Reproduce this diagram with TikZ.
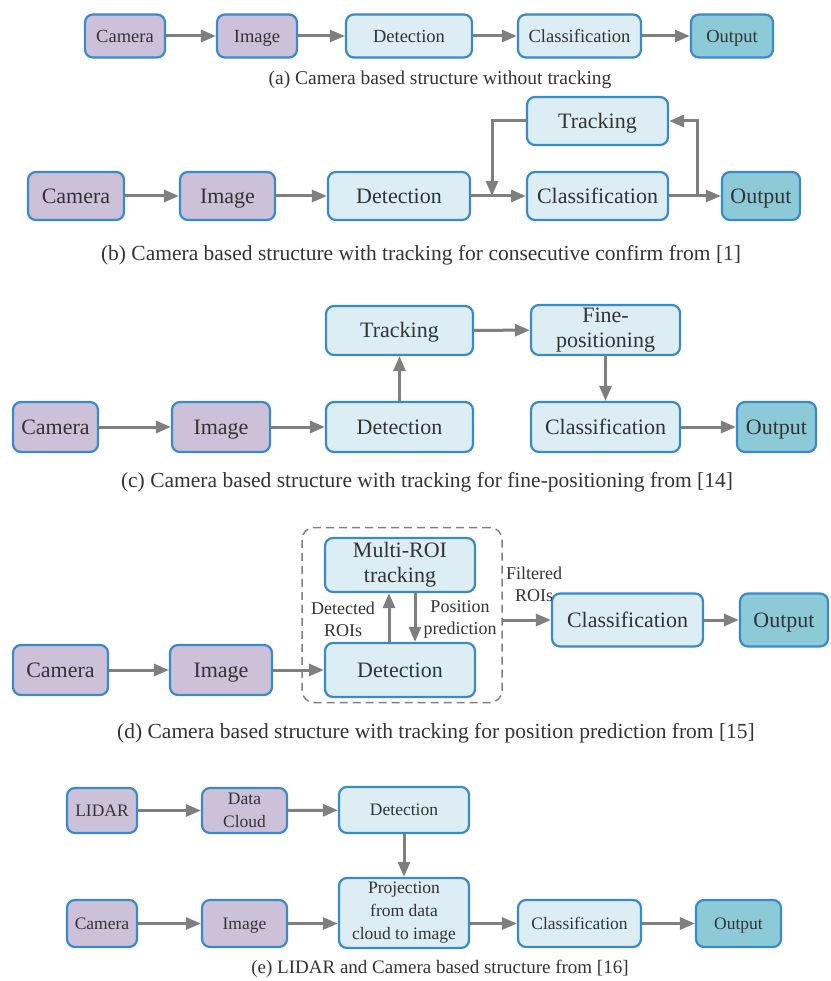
\documentclass[tikz,border=0pt]{standalone}
\usepackage{fontspec}
\setmainfont{Liberation Serif}
\usetikzlibrary{arrows.meta}
\definecolor{edgeblue}{HTML}{3A89C9}
\definecolor{sensfill}{HTML}{CDC1DA}
\definecolor{procfill}{HTML}{DCEDF4}
\definecolor{outfill}{HTML}{8DCAD8}
\definecolor{flowgray}{HTML}{7F7F7F}
\definecolor{inkgray}{HTML}{333333}
\tikzset{
    blk/.style={draw=edgeblue, line width=2.2pt, rounded corners=8pt, align=center,
        inner sep=0pt, text=inkgray},
    multi/.style={text height={}, text depth={}},
    sens/.style={blk, fill=sensfill},
    proc/.style={blk, fill=procfill},
    outp/.style={blk, fill=outfill},
    wh/.style 2 args={minimum width=#1pt, minimum height=#2pt},
    flow/.style={draw=flowgray, line width=3pt, -{Triangle[length=15pt,width=12pt]}},
    bigtxt/.style={font=\fontsize{22}{25}\selectfont, text height=14.5pt, text depth=0pt},
    midtxt/.style={font=\fontsize{18.5}{21}\selectfont, text height=12.2pt, text depth=0pt},
    smalltxt/.style={font=\fontsize{17.5}{23}\selectfont, text height=11.6pt, text depth=0pt},
    capt/.style={text=inkgray, font=\fontsize{21.5}{24}\selectfont},
    tag/.style={text=inkgray, align=center, inner sep=0pt, font=\fontsize{18}{22}\selectfont},
}
\begin{document}
\begin{tikzpicture}[x=1pt, y=-1pt]
                \useasboundingbox (0,0) rectangle (830,981);
                \begin{scope}[midtxt]
                \node[sens, wh={80}{43}] (camA) at (125,36) {Camera};
                \node[sens, wh={80}{43}] (imgA) at (257,36) {Image};
                \node[proc, wh={126}{43}] (detA) at (409,36) {Detection};
                \node[proc, wh={123}{43}] (clsA) at (579.5,36) {Classification};
                \node[outp, wh={82}{43}] (outA) at (732,36) {Output};
                \end{scope}
                \draw[flow] (camA) -- (imgA);
                \draw[flow] (imgA) -- (detA);
                \draw[flow] (detA) -- (clsA);
                \draw[flow] (clsA) -- (outA);
                \node[capt, font=\fontsize{19.5}{22}\selectfont] (capA) at (440,80) {(a) Camera based structure without tracking};

                \begin{scope}[bigtxt]
                \node[sens, wh={96}{48}] (camB) at (76,196) {Camera};
                \node[sens, wh={95}{48}] (imgB) at (227.5,196) {Image};
                \node[proc, wh={142}{48}] (detB) at (399,196) {Detection};
                \node[proc, wh={141}{48}] (clsB) at (597.5,196) {Classification};
                \node[outp, wh={78}{48}] (outB) at (761,196) {Output};
                \node[proc, wh={141}{48}] (trkB) at (597.5,121) {Tracking};
                \end{scope}
                \coordinate (fbB) at (492,196);
                \coordinate (brB) at (697,196);
                \draw[flow] (camB) -- (imgB);
                \draw[flow] (imgB) -- (detB);
                \draw[flow] (detB) -- (clsB);
                \draw[flow] (clsB) -- (outB);
                \draw[flow] (trkB.west) -| (fbB);
                \draw[flow] (brB) |- (trkB.east);
                \node[capt] (capB) at (421,255) {(b) Camera based structure with tracking for consecutive confirm from [1]};

                \begin{scope}[bigtxt]
                \node[proc, wh={147}{49}] (trkC) at (399.5,330.5) {Tracking};
                \node[proc, multi, wh={149}{50}] (fineC) at (605.5,330) {Fine-\\positioning};
                \node[sens, wh={85}{50}] (camC) at (55.5,427) {Camera};
                \node[sens, wh={98}{50}] (imgC) at (221,427) {Image};
                \node[proc, wh={147}{50}] (detC) at (399.5,427) {Detection};
                \node[proc, wh={149}{50}] (clsC) at (605.5,427) {Classification};
                \node[outp, wh={79}{50}] (outC) at (776.5,427) {Output};
                \end{scope}
                \draw[flow] (camC) -- (imgC);
                \draw[flow] (imgC) -- (detC);
                \draw[flow] (detC) -- (trkC);
                \draw[flow] (trkC) -- (fineC);
                \draw[flow] (fineC) -- (clsC);
                \draw[flow] (clsC) -- (outC);
                \node[capt] (capC) at (427,482) {(c) Camera based structure with tracking for fine-positioning from [14]};

                \node[draw=flowgray, line width=1.5pt, dashed, dash pattern=on 8pt off 5pt,
                    rounded corners=12pt, wh={200}{175}] (roiD) at (402,615) {};
                \begin{scope}[bigtxt]
                \node[proc, multi, wh={150}{54}] (trkD) at (400,565) {Multi-ROI\\tracking};
                \node[proc, wh={150}{54}] (detD) at (400,670) {Detection};
                \node[sens, wh={95}{50}] (camD) at (60.5,670) {Camera};
                \node[sens, wh={102}{50}] (imgD) at (221,670) {Image};
                \node[proc, wh={151}{53}] (clsD) at (627.5,620) {Classification};
                \node[outp, wh={88}{53}] (outD) at (784,620) {Output};
                \end{scope}
                \draw[flow] (camD) -- (imgD);
                \draw[flow] (imgD) -- (detD);
                \draw[flow] ([xshift=-11pt]detD.north) -- ([xshift=-11pt]trkD.south);
                \draw[flow] ([xshift=15pt]trkD.south) -- ([xshift=15pt]detD.north);
                \draw[flow] (roiD.east |- clsD) -- (clsD);
                \draw[flow] (clsD) -- (outD);
                \node[tag] (detrois) at (343,619) {Detected\\ROIs};
                \node[tag] (posprd) at (460,619) {Position\\prediction};
                \node[tag] (filtrois) at (534,584) {Filtered\\ROIs};
                \node[capt] (capD) at (436,733) {(d) Camera based structure with tracking for position prediction from [15]};

                \begin{scope}[smalltxt]
                \node[sens, wh={70}{45}] (lidE) at (102,810.5) {LIDAR};
                \node[sens, multi, wh={85}{45}] (datE) at (244.5,810.5) {Data\\Cloud};
                \node[proc, wh={130}{46}] (detE) at (404,810) {Detection};
                \node[proc, multi, wh={130}{70}] (prjE) at (404,913) {Projection\\from data\\cloud to image};
                \node[sens, wh={70}{47}] (camE) at (102,923.5) {Camera};
                \node[sens, wh={85}{47}] (imgE) at (244.5,923.5) {Image};
                \node[proc, wh={123}{47}] (clsE) at (579.5,923.5) {Classification};
                \node[outp, wh={85}{47}] (outE) at (738.5,923.5) {Output};
                \end{scope}
                \draw[flow] (lidE) -- (datE);
                \draw[flow] (datE) -- (detE);
                \draw[flow] (detE) -- (prjE);
                \draw[flow] (camE) -- (imgE);
                \draw[flow] (imgE) -- (imgE -| prjE.west);
                \draw[flow] (prjE.east |- clsE) -- (clsE);
                \draw[flow] (clsE) -- (outE);
                \node[capt, font=\fontsize{19}{22}\selectfont] (capE) at (440,969) {(e) LIDAR and Camera based structure from [16]};
\end{tikzpicture}
\end{document}
